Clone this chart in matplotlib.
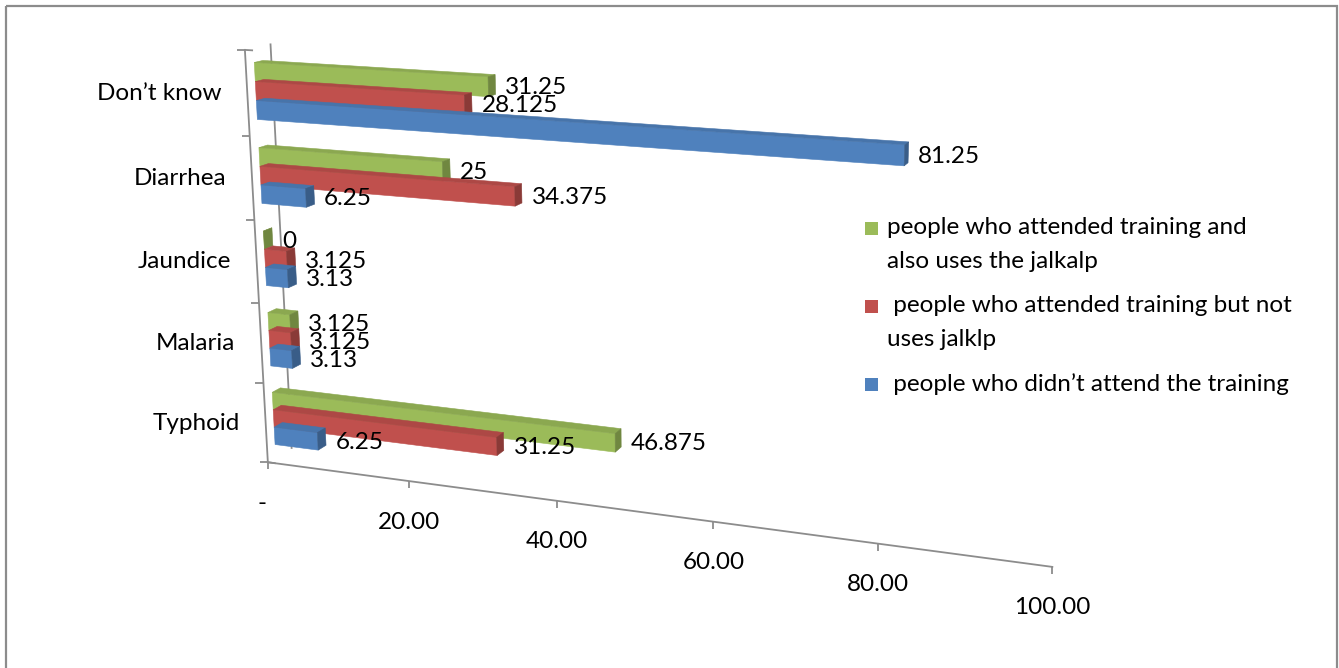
import numpy as np
import matplotlib
matplotlib.use("Agg")
import matplotlib.pyplot as plt
from matplotlib import transforms as mtransforms
from matplotlib.path import Path
from matplotlib.patches import Rectangle

plt.rcParams['font.family'] = ['Lato', 'DejaVu Sans']

# data (bottom category first, like excel draws a bar chart)
categories = ['Typhoid', 'Malaria', 'Jaundice', 'Diarrhea', 'Don\u2019t know']
trained_uses = [46.875, 3.125, 0, 25, 31.25]
trained_not_uses = [31.25, 3.125, 3.125, 34.375, 28.125]
not_trained = [6.25, 3.13, 3.13, 6.25, 81.25]
series_names = ['people who attended training and\nalso uses the jalkalp',
                ' people who attended training but not\nuses jalklp',
                ' people who didn\u2019t attend the training']
colors = ['#9BBB59', '#C0504D', '#4F81BD']
xticks = [0, 20, 40, 60, 80, 100]
xticklabels = ['-', '20.00', '40.00', '60.00', '80.00', '100.00']

gap = 1.5                 # excel gap width
bw = 1 / (3 + gap)
z0, z1 = 0.33, 0.67       # bar depth inside the floor

# 3d camera (value, category, depth) -> pixel, fitted on points
cal_3d = [(0, 0, 0), (20, 0, 0), (40, 0, 0), (60, 0, 0), (80, 0, 0), (100, 0, 0),
          (0, 1, 0), (0, 2, 0), (0, 3, 0), (0, 4, 0), (0, 5, 0),
          (0, 0, 1), (0, 5, 1),
          (81.25, 4 + 1.5 * bw, z0), (46.875, 0 + 3.5 * bw, z0),
          (34.375, 3 + 2.5 * bw, z0), (31.25, 4 + 3.5 * bw, z0)]
cal_px = [(268, 462), (409, 482), (557, 502), (713, 522), (879, 543), (1053, 565),
          (263.6, 383), (259.1, 302), (254.5, 220), (249.7, 135), (245, 50),
          (292, 448), (271, 43),
          (905, 150), (613, 439), (514, 194), (488, 83)]


def fit_camera(p3, p2):
    A = []
    for (X, Y, Z), (u, v) in zip(p3, p2):
        q = np.array([X / 100, Y / 5, Z, 1.0])
        u, v = u / 1000, v / 1000
        A.append(np.r_[q, np.zeros(4), -u * q])
        A.append(np.r_[np.zeros(4), q, -v * q])
    _, _, vt = np.linalg.svd(np.array(A))
    Pn = vt[-1].reshape(3, 4)
    return np.diag([1000, 1000, 1]) @ Pn @ np.diag([1 / 100, 1 / 5, 1, 1])


P = fit_camera(cal_3d, cal_px)
h1, h2, c, h3 = P[:, 0], P[:, 1], P[:, 2], P[:, 3]


class Homography(mtransforms.Transform):
    input_dims = output_dims = 2

    def __init__(self, M):
        super().__init__()
        self.M = np.asarray(M, float)

    def transform_non_affine(self, values):
        v = np.atleast_2d(values)
        h = v @ self.M[:, :2].T + self.M[:, 2]
        return h[:, :2] / h[:, 2:3]

    def transform_path_non_affine(self, path):
        return Path(self.transform_non_affine(path.vertices), path.codes)


fig = plt.figure(figsize=(13.39, 6.68), dpi=100)
ax = fig.add_axes([0, 0, 1, 1])
ax.set_xlim(0, 1339)
ax.set_ylim(668, 0)
ax.axis('off')


def shift(dx, dy):
    return mtransforms.Affine2D().translate(dx, -dy)


def front(z):   # (value, category)
    return Homography(np.column_stack([h1, h2, h3 + z * c])) + ax.transData


def end(x):     # (depth, category)
    return Homography(np.column_stack([c, h2, h3 + x * h1])) + ax.transData


def top(y):     # (value, depth)
    return Homography(np.column_stack([h1, c, h3 + y * h2])) + ax.transData


def shade(col, f):
    r, g, bb = matplotlib.colors.to_rgb(col)
    return (r * f, g * f, bb * f)


grey = '#8c8c8c'
ax.add_patch(Rectangle((6, 6), 1331, 680, fill=False, ec=grey, lw=1.6))

# walls / axes
ncat = len(categories)
ax.plot([0, 0], [0, ncat], color=grey, lw=1.3, transform=front(0), zorder=1)
ax.plot([0, 0], [0, ncat], color=grey, lw=1.3, transform=front(1), zorder=1)
ax.plot([0, 1], [0, 0], color=grey, lw=1.3, transform=top(0), zorder=1)
ax.plot([0, 1], [0, 0], color=grey, lw=1.3, transform=top(ncat), zorder=1)
ax.plot([xticks[0], xticks[-1]], [0, 0], color=grey, lw=1.3, transform=front(0), zorder=1)
ax.plot(np.zeros(ncat + 1), np.arange(ncat + 1), ls='none', marker=0, ms=6,
        mew=1.3, color=grey, transform=front(0), zorder=1)
ax.plot(xticks, np.zeros(len(xticks)), ls='none', marker=3, ms=5,
        mew=1.3, color=grey, transform=front(0), zorder=1)

fs = 17.5
for xv, lab in zip(xticks, xticklabels):
    dx = -6 if lab == '-' else 0
    ax.text(xv, 0, lab, transform=front(0) + shift(dx, 41), ha='center', va='center', fontsize=fs)
for k, name in enumerate(categories):
    ax.text(0, k + 0.5, name, transform=front(0) + shift(-26, 0), ha='right', va='center', fontsize=fs)

# bars
series = [trained_uses, trained_not_uses, not_trained]
slots = [2, 1, 0]   # green on top, blue at the bottom of each cluster
for si in [2, 1, 0]:
    vals = series[si]
    col = colors[si]
    yc = np.arange(ncat) + gap / 2 * bw + (slots[si] + 0.5) * bw
    ax.barh(yc, vals, height=bw, left=0, color=col, ec=col, lw=0.4,
            transform=front(z0), zorder=3 + si)
    # label: x after the back edge of the bar end, y level with the front face
    lab_tr = mtransforms.blended_transform_factory(front(z1) + shift(10, 0), front(z0) + shift(0, 1))
    for k, v in enumerate(vals):
        ax.add_patch(Rectangle((0, z0), v, z1 - z0, fc=shade(col, 0.9), ec=shade(col, 0.9),
                               lw=0.4, transform=top(yc[k] + bw / 2), zorder=3 + si))
        ax.add_patch(Rectangle((z0, yc[k] - bw / 2), z1 - z0, bw, fc=shade(col, 0.72),
                               ec=shade(col, 0.72), lw=0.4, transform=end(v), zorder=3 + si))
        ax.text(v, yc[k], '{:g}'.format(v), transform=lab_tr,
                ha='left', va='center', fontsize=fs, zorder=10)

# legend
leg_y = [228, 306, 384]
for i in range(3):
    ax.add_patch(Rectangle((865, leg_y[i] - 6.5), 13, 13, fc=colors[i], ec='none'))
    for j, line in enumerate(series_names[i].split('\n')):
        ax.text(887, leg_y[i] + 34 * j, line, ha='left', va='center', fontsize=fs)

fig.savefig('out.png', dpi=100)
